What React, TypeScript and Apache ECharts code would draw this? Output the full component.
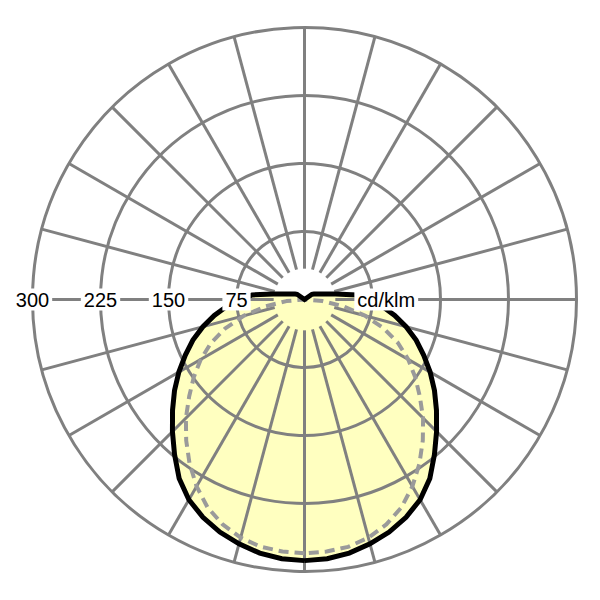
import React, { useEffect, useRef } from "react";
import * as echarts from "echarts";

// Ring values (cd/klm) and their tick labels
const RING_VALUES = [75, 150, 225, 300];
const RING_LABELS = ["75", "150", "225", "300"];
const UNIT_LABEL = "cd/klm";

// Radial grid directions (degrees from nadir)
const SPOKE_ANGLES = [0, 15, 30, 45, 60, 75, 90, 105, 120, 135, 150, 165, 180, 195, 210, 225, 240, 255, 270, 285, 300, 315, 330, 345];

// C0-C180 plane (solid black), gamma from nadir and intensity in cd/klm
const GAMMA_C0 = [0, 5, 10, 15, 20, 25, 30, 35, 40, 45, 50, 55, 60, 65, 70, 75, 80, 85, 90, 95, 100, 105, 110, 115, 120, 125, 180];
const I_C0 = [288, 287, 284, 279, 273, 265, 255, 241, 223, 206, 190, 175, 160, 145, 131, 116, 101, 86, 70, 58, 35, 23.5, 17.5, 14.3, 12, 10, 0];

// C90-C270 plane (dashed grey)
const GAMMA_C90 = [0, 5, 10, 15, 20, 25, 30, 35, 40, 45, 50, 55, 60, 65, 70, 75, 80, 85, 90];
const I_C90 = [280, 279, 277, 272, 264, 253, 238, 221, 203, 185, 166, 149, 132, 114, 93, 69, 44, 20, 0];

const MAX_R = 300;
const SPOKE_START = 34;
const UNIT_POS = 55;

function mirror(gammas: number[], values: number[]): number[][] {
  const left = gammas.map((g, i) => [values[i], g]);
  const right: number[][] = [];
  for (let i = gammas.length - 1; i >= 0; i--) {
    right.push([values[i], 360 - gammas[i]]);
  }
  return left.concat(right);
}

export default function App() {
  const ref = useRef<HTMLDivElement>(null);

  useEffect(() => {
    if (!ref.current) return;
    const chart = echarts.init(ref.current, undefined, { renderer: "svg" });
    const blackPts = mirror(GAMMA_C0, I_C0);
    const dashPts = mirror(GAMMA_C90, I_C90);
    const grey = "#808080";
    const font = '20px "Liberation Sans", Arial, sans-serif';

    chart.setOption({
      animation: false,
      polar: { center: [304.5, 299.5], radius: 272 },
      angleAxis: {
        type: "value",
        min: 0,
        max: 360,
        startAngle: 270,
        clockwise: true,
        axisLine: { show: false },
        axisTick: { show: false },
        axisLabel: { show: false },
        splitLine: { show: false },
        z: 3,
      },
      radiusAxis: {
        type: "value",
        min: 0,
        max: MAX_R,
        interval: 75,
        axisLine: { show: false },
        axisTick: { show: false },
        axisLabel: { show: false },
        splitLine: { show: true, lineStyle: { color: grey, width: 3 } },
        z: 3,
      },
      series: [
        {
          type: "custom",
          coordinateSystem: "polar",
          z: 1,
          silent: true,
          data: [[0, 0]],
          renderItem: (params: any, api: any) => ({
            type: "polygon",
            shape: { points: blackPts.map((p) => api.coord(p)) },
            style: { fill: "#ffffc0", stroke: "none" },
          }),
        },
        {
          type: "custom",
          coordinateSystem: "polar",
          z: 3,
          silent: true,
          data: SPOKE_ANGLES.map((a) => [MAX_R, a]),
          renderItem: (params: any, api: any) => {
            const a = api.value(1);
            const p1 = api.coord([SPOKE_START, a]);
            const p2 = api.coord([api.value(0), a]);
            return {
              type: "line",
              shape: { x1: p1[0], y1: p1[1], x2: p2[0], y2: p2[1] },
              style: { stroke: grey, lineWidth: 3 },
            };
          },
        },
        {
          type: "line",
          coordinateSystem: "polar",
          data: dashPts,
          symbol: "none",
          z: 10,
          silent: true,
          lineStyle: { color: "#9a9a9a", width: 4, type: [10, 6] },
        },
        {
          type: "line",
          coordinateSystem: "polar",
          data: blackPts,
          symbol: "none",
          z: 11,
          silent: true,
          lineStyle: { color: "#000000", width: 5, join: "miter", miterLimit: 4 },
        },
        {
          type: "custom",
          coordinateSystem: "polar",
          z: 20,
          silent: true,
          data: RING_VALUES.map((v) => [v, 90]),
          renderItem: (params: any, api: any) => {
            const p = api.coord([api.value(0), api.value(1)]);
            return {
              type: "text",
              x: p[0],
              y: p[1],
              style: {
                text: RING_LABELS[params.dataIndex],
                fill: "#000",
                font,
                align: "center",
                verticalAlign: "middle",
                backgroundColor: "#ffffff",
                padding: [1, 3],
              },
            };
          },
        },
        {
          type: "custom",
          coordinateSystem: "polar",
          z: 20,
          silent: true,
          data: [[UNIT_POS, 270]],
          renderItem: (params: any, api: any) => {
            const p = api.coord([api.value(0), api.value(1)]);
            return {
              type: "text",
              x: p[0],
              y: p[1],
              style: {
                text: UNIT_LABEL,
                fill: "#000",
                font,
                align: "left",
                verticalAlign: "middle",
                backgroundColor: "#ffffff",
                padding: [1, 3],
              },
            };
          },
        },
      ],
    });
    return () => chart.dispose();
  }, []);

  return (
    <div
      ref={ref}
      style={{ position: "absolute", left: 0, top: 0, width: 600, height: 600, background: "#ffffff" }}
    />
  );
}
